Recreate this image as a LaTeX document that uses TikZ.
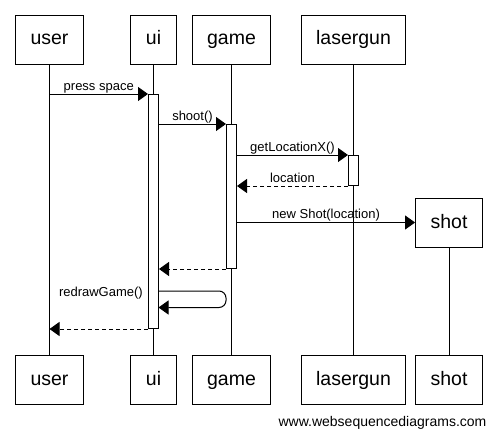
\documentclass[tikz,border=0pt]{standalone}
\usepackage{fontspec}
\setmainfont{Liberation Sans}
\usetikzlibrary{arrows.meta}

\begin{document}
\begin{tikzpicture}[x=1pt,y=1pt]
  \tikzstyle{actor}=[draw, line width=1pt, inner xsep=15pt, inner ysep=0pt, text height=15pt, text depth=4pt, minimum height=49pt, font=\fontsize{19.5}{22}\selectfont]
  \tikzstyle{bar}=[draw, fill=white, line width=1pt, minimum width=10pt, inner sep=0pt, anchor=north]
  \tikzstyle{msg}=[line width=1pt, -{Triangle[length=10pt,width=14pt]}]
  \tikzstyle{ret}=[msg, dash pattern=on 4pt off 3pt]
  \tikzstyle{lbl}=[anchor=base, yshift=4pt, inner sep=0pt, font=\fontsize{13}{15}\selectfont]
  \useasboundingbox (0,0) rectangle (499,-439);
  % actors, top and bottom
  \node[actor] (user) at (49.5,-39.5) {user};
  \node[actor] (ui) at (153.5,-39.5) {ui};
  \node[actor] (game) at (231.5,-39.5) {game};
  \node[actor] (lasergun) at (353.5,-39.5) {lasergun};
  \node[actor] (shot) at (449,-222.5) {shot};
  \node[actor] (userb) at (49.5,-379.5) {user};
  \node[actor] (uib) at (153.5,-379.5) {ui};
  \node[actor] (gameb) at (231.5,-379.5) {game};
  \node[actor] (lasergunb) at (353.5,-379.5) {lasergun};
  \node[actor] (shotb) at (449,-379.5) {shot};
  % lifelines
  \foreach \a in {user,ui,game,lasergun,shot}
    \draw[line width=1pt] (\a) -- (\a b);
  % activations
  \node[bar, minimum height=234pt] (uibar) at (153.5,-94) {};
  \node[bar, minimum height=144pt] (gamebar) at (231.5,-124) {};
  \node[bar, minimum height=30pt] (lgbar) at (353.5,-155) {};
  % messages
  \draw[msg] (user |- uibar.north west) -- node[lbl] {press space} (uibar.north west);
  \draw[msg] (uibar.east |- gamebar.north) -- node[lbl] {shoot()} (gamebar.north west);
  \draw[msg] (gamebar.east |- lgbar.north) -- node[lbl] {getLocationX()} (lgbar.north west);
  \draw[ret] (lgbar.south west) -- node[lbl] {location} (gamebar.east |- lgbar.south);
  \draw[msg] (gamebar.east |- shot.west) -- node[lbl] {new Shot(location)} (shot.west);
  \draw[ret] (gamebar.south west) -- (uibar.east |- gamebar.south);
  % self call
  \coordinate (selfa) at (158.5,-291);
  \coordinate (selfb) at (158.5,-307.5);
  \draw[msg, rounded corners=7pt] (selfa) -- (226,-291) -- (226,-307.5) -- (selfb);
  \node[anchor=base east, inner sep=0pt, font=\fontsize{13}{15}\selectfont] (redraw) at (143,-296) {redrawGame()};
  \draw[ret] (uibar.south west) -- (user |- uibar.south);
  \node[anchor=base, inner sep=0pt, font=\fontsize{14}{16}\selectfont] (site) at (382.5,-426) {www.websequencediagrams.com};
\end{tikzpicture}
\end{document}
